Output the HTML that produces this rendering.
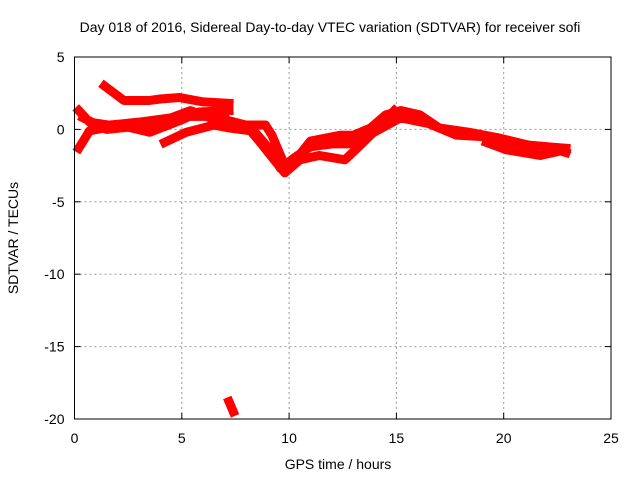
<!DOCTYPE html>
<html><head><meta charset="utf-8"><style>
body{margin:0;background:#fff}
svg text{font-family:"Liberation Sans",sans-serif;font-size:14px;fill:#000}
</style></head><body>
<svg id="chart" width="640" height="480">
<rect width="640" height="480" fill="#fff"/>
<text x="330" y="32" text-anchor="middle">Day 018 of 2016, Sidereal Day-to-day VTEC variation (SDTVAR) for receiver sofi</text>
<g id="grid"></g><g id="marks"></g><g id="axes"></g>
<text x="338" y="469" text-anchor="middle">GPS time / hours</text>
<text transform="translate(18,238) rotate(-90)" text-anchor="middle">SDTVAR / TECUs</text>
</svg>
<script>
const xTicks=[0,5,10,15,20,25];
const yTicks=[5,0,-5,-10,-15,-20];
const trackA=[[1.4,3.0],[2.3,2.0],[3.5,2.0],[4.0,2.1],[4.9,2.2],[6.0,1.9],[7.2,1.8]];
const trackB=[[0.2,1.3],[0.7,0.5],[1.6,0.3],[3.0,0.5],[4.5,0.8],[5.4,1.3],[6.5,0.7],[7.2,0.6],[8.0,0.3],[8.9,0.3],[9.2,-0.4],[9.8,-2.5],[10.3,-2.1],[11.0,-0.8],[12.4,-0.4],[13.0,-0.4],[13.8,0.1],[14.5,1.0],[15.2,1.3],[16.1,1.0],[17.0,0.1],[18.4,-0.2],[19.8,-0.6],[21.2,-1.1],[22.9,-1.3]];
const trackC=[[0.2,-1.3],[0.7,-0.1],[2.1,0.3],[3.5,-0.2],[4.9,0.6],[5.8,1.2],[7.2,1.3]];
const trackD=[[4.2,-0.9],[5.2,-0.2],[6.5,0.3],[7.2,0.1],[8.2,-0.1],[8.6,-0.8],[9.3,-2.1],[9.8,-3.0],[10.5,-2.1],[11.4,-1.8],[12.6,-2.1],[13.1,-1.4],[14.0,-0.1],[14.9,1.3]];
const trackE=[[19.2,-0.9],[20.1,-1.4],[21.7,-1.8],[22.9,-1.4]];
const trackF=[[7.2,-18.8],[7.4,-19.5]];
const trackG=[[0.4,0.8],[1.5,0.0],[2.8,0.2],[4.0,0.4],[5.2,0.9],[6.2,0.9],[7.0,1.0]];
const trackH=[[8.3,0.0],[9.0,-1.2],[9.6,-2.7],[10.2,-2.0],[11.0,-1.2],[12.0,-1.0],[13.0,-1.0],[14.2,0.0],[15.2,0.8],[16.5,0.4],[17.8,-0.4],[19.0,-0.5],[20.5,-1.0],[22.0,-1.2],[22.9,-1.6]];
const tracks=[trackA,trackB,trackC,trackD,trackE,trackF,trackG,trackH];
const X0=74.5,X1=611,Y0=57,Y1=419;
const sx=t=>X0+(t-0)/(25-0)*(X1-X0);
const sy=v=>Y1-(v+20)/25*(Y1-Y0);
const NS='http://www.w3.org/2000/svg';
const grid=document.getElementById('grid'),axes=document.getElementById('axes'),marks=document.getElementById('marks');
function mk(tag,attrs,parent){const e=document.createElementNS(NS,tag);for(const k in attrs)e.setAttribute(k,attrs[k]);parent.appendChild(e);return e;}
xTicks.forEach(t=>{
 if(t>0&&t<25){const g=mk('line',{x1:sx(t),x2:sx(t),y1:Y0,y2:Y1,stroke:'#999','stroke-dasharray':'2,3'},grid);
 
 }
 const l=mk('text',{x:sx(t),y:Y1+24,'text-anchor':'middle'},axes);l.textContent=t;
 
 
 mk('line',{x1:sx(t),x2:sx(t),y1:Y1,y2:Y1-6,stroke:'#000'},axes);
 mk('line',{x1:sx(t),x2:sx(t),y1:Y0,y2:Y0+6,stroke:'#000'},axes);
});
yTicks.forEach(v=>{
 if(v<5&&v>-20){const g=mk('line',{x1:X0,x2:X1,y1:sy(v),y2:sy(v),stroke:'#999','stroke-dasharray':'2,3'},grid);
 
 }
 const l=mk('text',{x:X0-10,y:sy(v)+5,'text-anchor':'end'},axes);l.textContent=v;
 
 
 mk('line',{x1:X0,x2:X0+6,y1:sy(v),y2:sy(v),stroke:'#000'},axes);
 mk('line',{x1:X1,x2:X1-6,y1:sy(v),y2:sy(v),stroke:'#000'},axes);
});
const fr=mk('rect',{x:X0,y:Y0,width:X1-X0,height:Y1-Y0,fill:'none',stroke:'#000'},axes);


tracks.forEach((tr,i)=>{
 const p=mk('polyline',{points:tr.map(d=>sx(d[0])+','+sy(d[1])).join(' '),fill:'none',stroke:'#f00','stroke-width':9,'stroke-linejoin':'round','stroke-linecap':'square'},marks);
 
 
});
</script>
</body></html>
